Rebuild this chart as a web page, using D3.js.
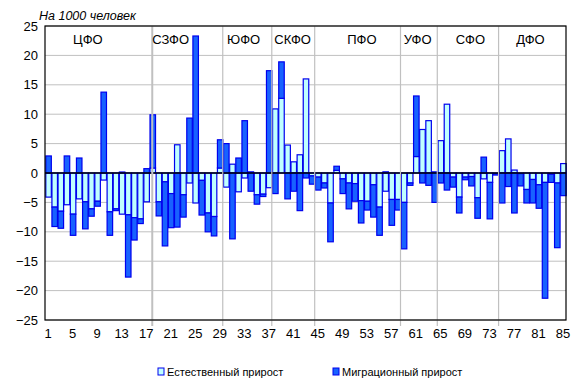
<!DOCTYPE html>
<html>
<head>
<meta charset="utf-8">
<script src="https://cdn.jsdelivr.net/npm/d3@7"></script>
<style>
  body { margin: 0; background: #fff; }
  text { font-family: Arial, "Liberation Sans", sans-serif; fill: #000; }
</style>
</head>
<body>
<svg id="chart"></svg>
<script>
// Regions 1..85, grouped by federal district
const regions = d3.range(1, 86);

// Естественный прирост, на 1000 человек
const natural = [
  -4.1, -5.8, -6.5, -5.4, -7.0, -4.4, -4.9, -6.1, -4.8, -1.2,
  -6.6, -6.1, -7.0, -7.1, -7.6, -7.8, -4.9, 0.85, -4.9, -1.5,
  -3.5, 4.8, -3.7, -1.7, -5.1, -1.25, -6.8, -7.4, 0.85, -2.4,
  1.5, -3.2, -0.85, 0.2, -3.7, -3.6, -2.5, 10.9, 12.7, 4.75,
  1.9, 3.1, 16.0, -0.5, -0.7, -1.7, -5.1, 0.45, -1.0, -1.7,
  -1.8, -4.7, -4.8, -2.0, -5.8, -3.1, -4.5, -4.5, -5.0, -1.7,
  2.8, 7.4, 8.9, 0.2, 5.5, 11.7, -0.7, -4.1, -0.7, -0.6,
  -4.2, -1.0, -1.6, -0.1, 3.8, 5.8, 0.5, -0.1, -2.8, -1.1,
  -2.0, -1.6, -0.2, -1.7, 1.6
];

// Миграционный прирост, на 1000 человек
const migration = [
  2.9, -3.3, -2.9, 2.9, -3.6, 2.55, -4.6, -1.25, -0.85, 13.75,
  -4.0, -0.3, 0.17, -10.6, -3.8, -0.8, 0.74, 9.05, -2.4, -10.9,
  -5.8, -9.2, -3.8, 9.34, 23.3, -5.9, -3.2, -3.3, 4.8, 5.0,
  -11.2, 2.55, 8.9, -3.1, -1.6, -0.4, 17.4, -3.5, 6.2, -4.4,
  -3.1, -6.4, -0.85, -1.4, -2.2, -0.85, -6.6, 0.7, -2.5, -4.4,
  -3.0, -3.8, -1.5, -5.5, -4.8, 0.2, -4.4, -1.8, -7.9, -0.4,
  10.3, -1.7, -2.1, -5.0, -1.7, -2.9, -1.7, -2.7, -0.45, -1.6,
  -3.5, 2.7, -6.2, -0.25, -5.1, -2.3, -6.8, -2.1, -2.3, -4.0,
  -4.0, -19.7, -1.4, -11.0, -3.85
];

const seriesNames = ['Естественный прирост', 'Миграционный прирост'];
const xTickLabels = [1, 5, 9, 13, 17, 21, 25, 29, 33, 37, 41, 45, 49, 53, 57, 61, 65, 69, 73, 77, 81, 85];
const yTicks = [-25, -20, -15, -10, -5, 0, 5, 10, 15, 20, 25];

// Federal districts: names, separator positions and label positions (in region units)
const districts = ['ЦФО', 'СЗФО', 'ЮФО', 'СКФО', 'ПФО', 'УФО', 'СФО', 'ДФО'];
const districtSeparators = [17.5, 29, 37, 44, 58, 64, 74];
const districtLabelAt = [7, 20.5, 32.4, 40.4, 51.7, 60.8, 69.4, 79.2];

const config = {
  width: 581,
  height: 391,
  margin: { top: 26, right: 15, bottom: 71, left: 45 }
};
const colors = { natural: '#c0ffff', migration: '#1862ff', stroke: '#0000ee', grid: '#c0c0c0' };

const w = config.width - config.margin.left - config.margin.right;
const h = config.height - config.margin.top - config.margin.bottom;

const svg = d3.select('#chart')
  .attr('width', config.width)
  .attr('height', config.height);

const chart = svg.append('g')
  .attr('transform', `translate(${config.margin.left},${config.margin.top})`);

const table = regions.map((r, i) => ({ region: r, nat: natural[i], mig: migration[i] }));

const xScale = d3.scaleBand().domain(regions).range([0, w]).paddingInner(0.1).paddingOuter(0.05);
const unitScale = d3.scaleLinear().domain([0, regions.length]).range([0, w]);
const yScale = d3.scaleLinear().domain([-25, 25]).range([h, 0]);

// horizontal gridlines
chart.append('g')
  .selectAll('line')
  .data(yTicks.filter(d => d !== 0))
  .join('line')
  .attr('x1', 0).attr('x2', w)
  .attr('y1', d => yScale(d)).attr('y2', d => yScale(d))
  .attr('stroke', colors.grid)
  .attr('stroke-width', 1);

// stacked bars, Excel style (positive up, negative down)
const stack = d3.stack().keys(['nat', 'mig']).offset(d3.stackOffsetDiverging);
const layers = stack(table);
const fills = [colors.natural, colors.migration];

chart.append('g')
  .selectAll('g')
  .data(layers)
  .join('g')
  .attr('fill', (d, i) => fills[i])
  .selectAll('rect')
  .data(d => d)
  .join('rect')
  .attr('x', d => xScale(d.data.region) + 0.5)
  .attr('width', xScale.bandwidth())
  .attr('y', d => yScale(Math.max(d[0], d[1])))
  .attr('height', d => Math.abs(yScale(d[0]) - yScale(d[1])))
  .attr('stroke', colors.stroke)
  .attr('stroke-width', 1.2);

// zero line
chart.append('line')
  .attr('x1', 0).attr('x2', w)
  .attr('y1', yScale(0)).attr('y2', yScale(0))
  .attr('stroke', '#000').attr('stroke-width', 1.3);

// district separators
chart.append('g')
  .selectAll('line')
  .data(districtSeparators)
  .join('line')
  .attr('x1', d => unitScale(d)).attr('x2', d => unitScale(d))
  .attr('y1', 0).attr('y2', h + 6)
  .attr('stroke', colors.grid)
  .attr('stroke-width', (d, i) => i === 0 ? 2 : 1.2);

// district labels
chart.append('g')
  .selectAll('text')
  .data(districts)
  .join('text')
  .attr('x', (d, i) => unitScale(districtLabelAt[i]))
  .attr('y', 18)
  .attr('text-anchor', 'middle')
  .style('font-size', '13px')
  .text(d => d);

// frame
chart.append('rect')
  .attr('x', 0).attr('y', 0)
  .attr('width', w).attr('height', h)
  .attr('fill', 'none')
  .attr('stroke', '#000')
  .attr('stroke-width', 1.2);

// axes
const xAxis = d3.axisBottom(xScale).tickValues(xTickLabels).tickSize(0).tickPadding(9);
const yAxis = d3.axisLeft(yScale).tickValues(yTicks).tickSize(0).tickPadding(7);

const xAxisG = chart.append('g').attr('transform', `translate(0,${h})`).call(xAxis);
const yAxisG = chart.append('g').call(yAxis);
[xAxisG, yAxisG].forEach(g => {
  g.select('.domain').remove();
  g.selectAll('text').style('font-size', '13px').attr('fill', '#000');
});

// unit title
svg.append('text')
  .attr('x', 39)
  .attr('y', 20)
  .style('font-size', '12.5px')
  .style('font-style', 'italic')
  .text('На 1000 человек');

// legend
const legendItems = [
  { name: seriesNames[0], color: colors.natural, x: 158 },
  { name: seriesNames[1], color: colors.migration, x: 333 }
];
const legend = svg.append('g');
const item = legend.selectAll('g')
  .data(legendItems)
  .join('g')
  .attr('transform', d => `translate(${d.x},368)`);
item.append('rect')
  .attr('width', 6).attr('height', 7)
  .attr('fill', d => d.color)
  .attr('stroke', colors.stroke)
  .attr('stroke-width', 1);
item.append('text')
  .attr('x', 9)
  .attr('y', 8)
  .style('font-size', '11px')
  .text(d => d.name);
</script>
</body>
</html>
